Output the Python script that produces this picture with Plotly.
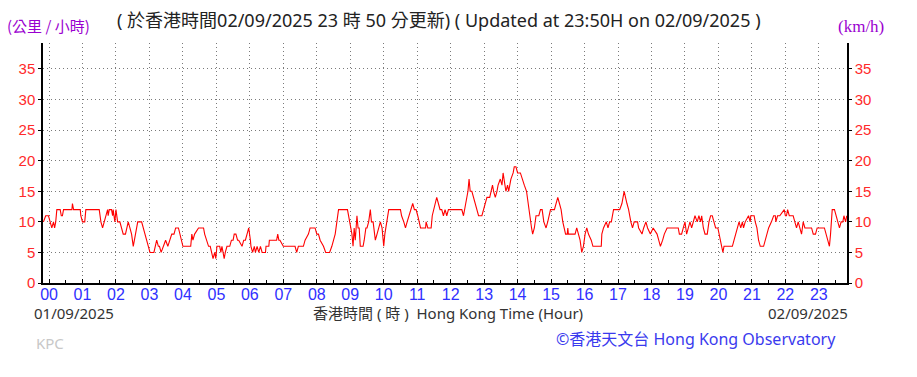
import plotly.graph_objects as go

# time in minutes from 00:00 of the labelled day, wind speed in km/h
minutes = [-10, -6, -1, 2, 5, 8, 10, 12, 14, 20, 22, 24, 26, 41, 42, 44, 56, 57, 60, 64, 66, 90, 91, 93, 96, 99, 101, 105, 106, 108, 112, 114, 115, 118, 120, 123, 127, 130, 133, 137, 139, 142, 145, 148, 151, 153, 155, 159, 166, 169, 172, 175, 178, 181, 188, 191, 193, 196, 198, 201, 205, 209, 213, 216, 220, 224, 227, 232, 235, 237, 240, 254, 256, 258, 261, 268, 277, 279, 283, 286, 289, 292, 294, 297, 299, 301, 306, 308, 310, 312, 314, 316, 319, 324, 327, 330, 332, 335, 338, 340, 346, 349, 352, 355, 358, 361, 362, 365, 368, 370, 373, 376, 379, 382, 388, 389, 394, 395, 400, 403, 406, 408, 410, 412, 414, 420, 441, 444, 447, 456, 459, 465, 468, 477, 480, 483, 486, 492, 496, 498, 503, 507, 510, 513, 516, 519, 535, 537, 540, 543, 545, 547, 549, 552, 554, 556, 558, 563, 565, 568, 570, 573, 576, 578, 581, 584, 585, 588, 591, 594, 597, 600, 602, 605, 609, 630, 632, 636, 639, 642, 645, 649, 652, 655, 658, 661, 666, 675, 676, 679, 685, 687, 690, 692, 695, 698, 701, 704, 707, 710, 713, 716, 740, 743, 745, 748, 751, 753, 755, 758, 761, 764, 767, 770, 776, 779, 782, 785, 790, 792, 795, 797, 800, 803, 805, 809, 812, 814, 816, 819, 822, 824, 826, 828, 832, 834, 837, 840, 845, 848, 852, 856, 859, 861, 863, 865, 867, 870, 873, 878, 881, 884, 887, 891, 894, 899, 906, 909, 912, 915, 918, 921, 926, 929, 930, 931, 943, 946, 949, 952, 955, 958, 961, 964, 967, 972, 975, 990, 991, 994, 999, 1002, 1005, 1008, 1012, 1023, 1027, 1031, 1036, 1039, 1043, 1046, 1049, 1055, 1057, 1063, 1066, 1070, 1073, 1078, 1083, 1090, 1093, 1096, 1100, 1103, 1108, 1128, 1130, 1134, 1137, 1140, 1143, 1146, 1149, 1152, 1155, 1158, 1162, 1165, 1168, 1170, 1173, 1176, 1180, 1183, 1186, 1189, 1192, 1195, 1199, 1201, 1204, 1206, 1208, 1210, 1225, 1228, 1231, 1234, 1237, 1240, 1243, 1245, 1248, 1254, 1257, 1258, 1264, 1266, 1269, 1272, 1275, 1281, 1284, 1287, 1290, 1295, 1299, 1302, 1303, 1306, 1310, 1318, 1320, 1322, 1324, 1327, 1334, 1337, 1340, 1343, 1346, 1349, 1352, 1355, 1367, 1370, 1374, 1377, 1390, 1393, 1396, 1399, 1401, 1402, 1404, 1408, 1411, 1414, 1417, 1420, 1423, 1425, 1428, 1430]
speed = [10, 11, 11, 10, 9, 10, 9, 10, 12, 12, 11, 11, 12, 12, 13, 12, 12, 11, 10, 10, 12, 12, 11, 10, 9, 10, 11, 12, 11, 12, 12, 11, 12, 10, 12, 10, 10, 9, 8, 8, 9, 10, 9, 8, 6, 7, 8, 10, 10, 9, 8, 7, 6, 5, 5, 6, 7, 6, 6, 5, 6, 7, 6, 7, 8, 8, 9, 9, 8, 7, 6, 6, 8, 7, 8, 9, 9, 8, 7, 6, 6, 5, 4, 5, 4, 6, 6, 5, 6, 5, 4, 5, 6, 6, 7, 7, 8, 8, 7, 7, 6, 7, 7, 8, 9, 7, 6, 5, 6, 5, 6, 5, 6, 5, 5, 6, 6, 7, 7, 7, 7, 7, 8, 7, 7, 6, 6, 5, 6, 6, 7, 8, 9, 9, 8, 8, 7, 6, 5, 5, 5, 6, 7, 8, 10, 12, 12, 11, 9, 8, 6, 9, 7, 11, 9, 9, 6, 6, 7, 9, 9, 10, 12, 10, 10, 8, 7, 8, 9, 10, 9, 6, 8, 10, 12, 12, 11, 10, 9, 10, 11, 12, 13, 12, 12, 11, 9, 9, 10, 9, 9, 11, 12, 13, 14, 13, 12, 12, 11, 12, 11, 12, 12, 11, 12, 14, 15, 17, 15, 15, 14, 13, 12, 11, 11, 12, 13, 14, 14, 15, 16, 15, 14, 15, 16, 17, 16, 18, 17, 15, 16, 15, 16, 17, 18, 19, 19, 18, 18, 17, 16, 15, 13, 11, 10, 9, 8, 9, 11, 11, 12, 12, 10, 9, 10, 12, 12, 13, 14, 13, 12, 10, 8, 8, 9, 8, 8, 9, 8, 7, 5, 6, 8, 9, 8, 7, 6, 6, 8, 9, 10, 9, 10, 10, 12, 12, 13, 15, 13, 12, 10, 9, 10, 10, 9, 8, 9, 10, 9, 8, 9, 8, 7, 6, 7, 8, 9, 9, 8, 8, 9, 10, 8, 9, 10, 9, 10, 11, 10, 11, 10, 11, 9, 8, 8, 10, 11, 11, 10, 9, 9, 8, 7, 6, 5, 6, 6, 7, 8, 9, 10, 9, 10, 9, 10, 11, 10, 11, 11, 10, 9, 7, 6, 6, 7, 8, 9, 10, 11, 11, 10, 11, 11, 12, 11, 11, 12, 11, 11, 10, 9, 10, 9, 8, 10, 9, 9, 8, 8, 9, 9, 8, 7, 6, 8, 10, 12, 12, 11, 10, 9, 10, 10, 11, 10, 11]

hour_ticks = list(range(0, 1440, 60))
hour_labels = ["%02d" % h for h in range(24)]
y_ticks = [0, 5, 10, 15, 20, 25, 30, 35]

X_RANGE = [-10.8, 1430.5]
Y_RANGE = [0, 39.25]

W, H = 917, 377
L, R, T, B = 43, 70, 43, 94
PW, PH = W - L - R, H - T - B


def px(x):
    return (x - L) / PW


def py(y):
    return (H - B - y) / PH


fig = go.Figure()
fig.add_trace(go.Scatter(x=minutes, y=speed, mode="lines",
                         line=dict(color="#ff0000", width=1.1),
                         hoverinfo="skip", showlegend=False))
fig.add_trace(go.Scatter(x=[minutes[0]], y=[speed[0]], yaxis="y2", mode="lines",
                         line=dict(width=0), hoverinfo="skip", showlegend=False))

grid = dict(showgrid=True, gridcolor="#7a7a7a", griddash="1px,3px", gridwidth=1.2)
tickfont_red = dict(family="Liberation Sans Narrow, Liberation Sans, Arial", size=15, color="#ff2a2a")

fig.update_layout(
    width=W, height=H,
    margin=dict(l=L, r=R, t=T, b=B),
    paper_bgcolor="white", plot_bgcolor="white",
    xaxis=dict(range=X_RANGE, tickmode="array", tickvals=hour_ticks, ticktext=hour_labels,
               ticks="inside", ticklen=4, tickcolor="black", ticklabelstandoff=-4,
               tickfont=dict(family="Liberation Sans, Arial", size=16, color="#3030ff"),
               showline=True, linecolor="black", linewidth=1.5, zeroline=False,
               minor=dict(tickmode="linear", tick0=30, dtick=60, ticks="inside", ticklen=3,
                          tickcolor="black", showgrid=False),
               **grid),
    yaxis=dict(range=Y_RANGE, tickmode="array", tickvals=y_ticks,
               ticks="outside", ticklen=3, tickcolor="black",
               tickfont=tickfont_red, showline=True, linecolor="black", linewidth=1.5,
               zeroline=False, **grid),
    yaxis2=dict(range=Y_RANGE, tickmode="array", tickvals=y_ticks, overlaying="y", side="right",
                ticks="outside", ticklen=3, tickcolor="black",
                tickfont=tickfont_red, showline=True, linecolor="black", linewidth=1.5,
                zeroline=False, showgrid=False),
)

cjk = "Noto Sans, Noto Sans CJK TC"
ann = [
    dict(text="(公里 / 小時)", x=px(5), y=py(25), xanchor="left", yanchor="middle",
         font=dict(family="Noto Sans CJK TC", size=15, color="#9a00d0")),
    dict(text="( 於香港時間02/09/2025 23 時 50 分更新) ( Updated at 23:50H on 02/09/2025 )",
         x=px(115), y=py(20), xanchor="left", yanchor="middle",
         font=dict(family=cjk, size=18, color="#222222")),
    dict(text="(km/h)", x=px(886), y=py(26), xanchor="right", yanchor="middle",
         font=dict(family="Liberation Serif, DejaVu Serif", size=17, color="#9a00d0")),
    dict(text="01/09/2025", x=px(32), y=py(313), xanchor="left", yanchor="middle",
         font=dict(family=cjk, size=15, color="#333333")),
    dict(text="香港時間 ( 時 )  Hong Kong Time (Hour)", x=px(448), y=py(313), xanchor="center", yanchor="middle",
         font=dict(family=cjk, size=15, color="#333333")),
    dict(text="02/09/2025", x=px(850), y=py(313), xanchor="right", yanchor="middle",
         font=dict(family=cjk, size=15, color="#333333")),
    dict(text="KPC", x=px(34), y=py(343), xanchor="left", yanchor="middle",
         font=dict(family=cjk, size=15, color="#c8c8c8")),
    dict(text="©香港天文台 Hong Kong Observatory", x=px(838), y=py(339), xanchor="right", yanchor="middle",
         font=dict(family=cjk, size=16, color="#3a3aee")),
]
for a in ann:
    a.update(xref="paper", yref="paper", showarrow=False)
fig.update_layout(annotations=ann)

fig.write_html("out.html", config={"displayModeBar": False},
               post_script="document.body.style.margin='0';")
